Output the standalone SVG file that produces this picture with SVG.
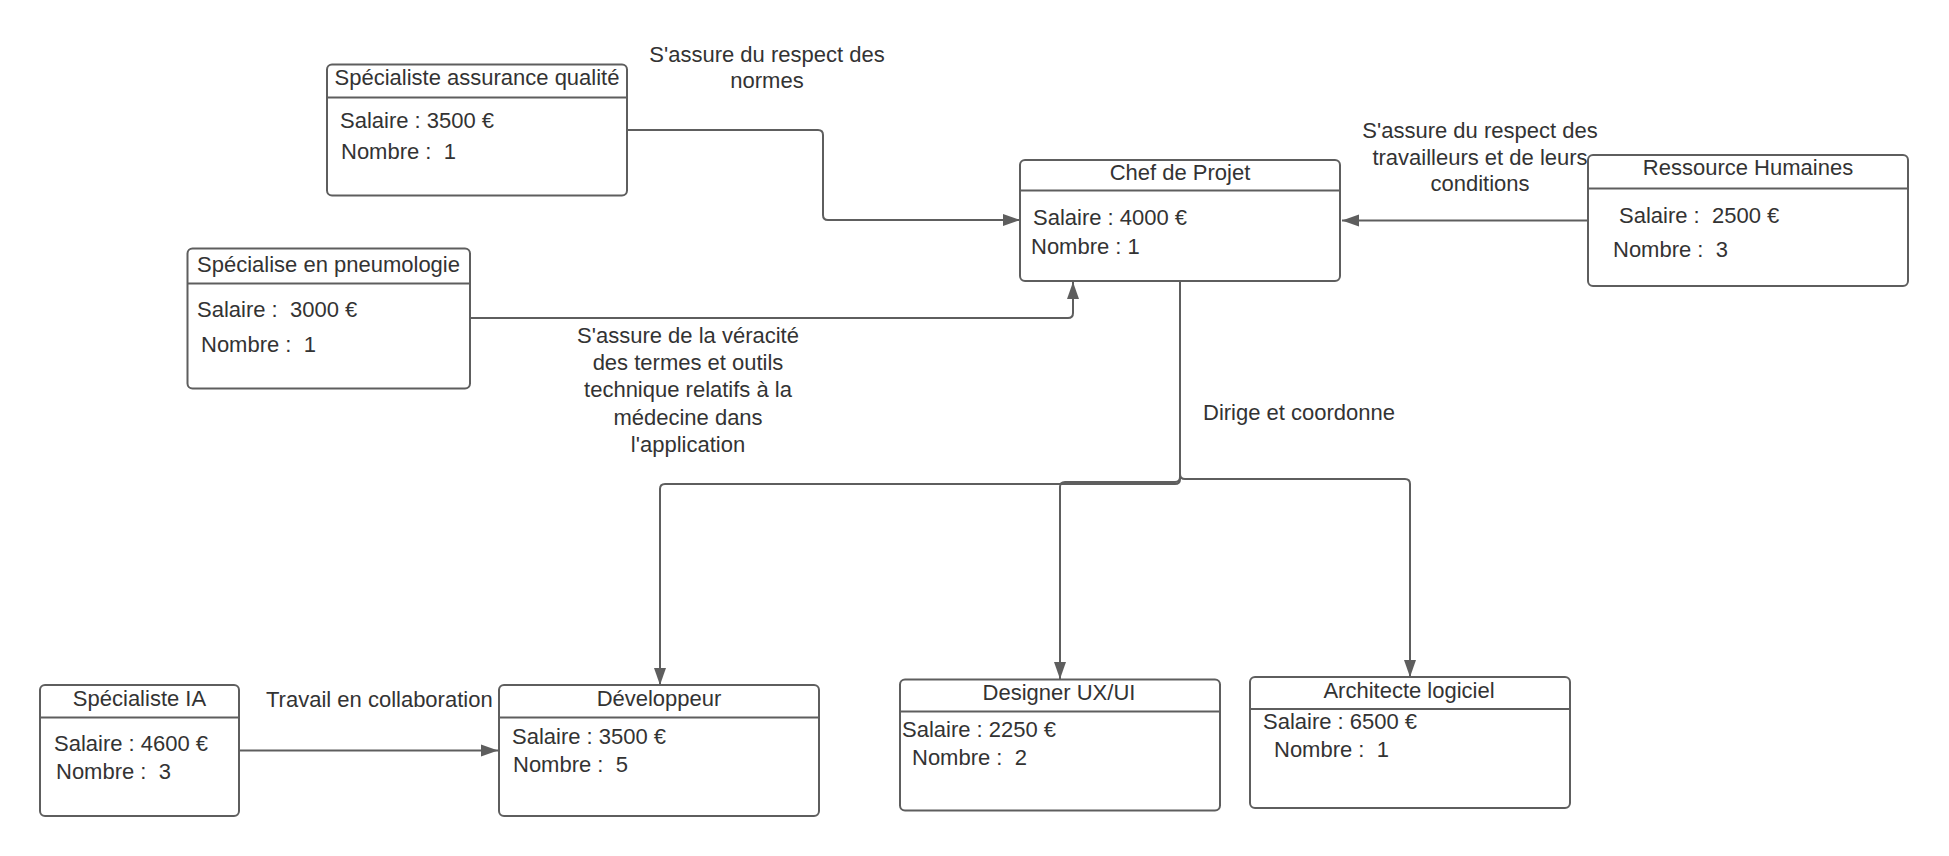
<svg xmlns="http://www.w3.org/2000/svg" width="1949" height="856" viewBox="0 0 1949 856">
<style>
.box{fill:#ffffff;stroke:#5e5e5e;stroke-width:2}
.div{stroke:#5e5e5e;stroke-width:2}
.t{font-family:"Liberation Sans",Arial,sans-serif;font-size:22px;fill:#333333;white-space:pre}
.c{text-anchor:middle}
.ln{fill:none;stroke:#5e5e5e;stroke-width:2}
</style>
<defs>
<marker id="arr" markerWidth="18" markerHeight="14" refX="17" refY="7" orient="auto" markerUnits="userSpaceOnUse">
<path d="M0,1 L17,7 L0,13 z" fill="#5e5e5e"/>
</marker>
</defs>
<rect width="1949" height="856" fill="#ffffff"/>
<g id="connectors">
<path class="ln" d="M627,130 L818,130 Q823,130 823,135 L823,215 Q823,220 828,220 L1020,220" marker-end="url(#arr)"/>
<path class="ln" d="M470,318 L1068,318 Q1073,318 1073,313 L1073,282" marker-end="url(#arr)"/>
<path class="ln" d="M1587,220.5 L1342,220.5" marker-end="url(#arr)"/>
<path class="ln" d="M1180,281 L1180,479 Q1180,484 1175,484 L665,484 Q660,484 660,489 L660,685" marker-end="url(#arr)"/>
<path class="ln" d="M1180,281 L1180,477 Q1180,482 1175,482 L1065,482 Q1060,482 1060,487 L1060,679" marker-end="url(#arr)"/>
<path class="ln" d="M1180,281 L1180,474 Q1180,479 1185,479 L1405,479 Q1410,479 1410,484 L1410,677" marker-end="url(#arr)"/>
<path class="ln" d="M239,750.5 L498,750.5" marker-end="url(#arr)"/>
<text class="t c" x="767" y="62">S'assure du respect des</text>
<text class="t c" x="767" y="88">normes</text>
<text class="t c" x="1480" y="138">S'assure du respect des</text>
<text class="t c" x="1480" y="165">travailleurs et de leurs</text>
<text class="t c" x="1480" y="191">conditions</text>
<text class="t c" x="688" y="343">S'assure de la véracité</text>
<text class="t c" x="688" y="370">des termes et outils</text>
<text class="t c" x="688" y="397">technique relatifs à la</text>
<text class="t c" x="688" y="425">médecine dans</text>
<text class="t c" x="688" y="452">l'application</text>
<text class="t" x="1203" y="420">Dirige et coordonne</text>
<text class="t" x="266" y="707">Travail en collaboration</text>
</g>
<g id="qa">
<rect class="box" x="327" y="64.5" width="300" height="131" rx="5"/>
<line class="div" x1="327" y1="97.5" x2="627" y2="97.5"/>
<text class="t c" x="477" y="85">Spécialiste assurance qualité</text>
<text class="t" x="340" y="128">Salaire : 3500 €</text>
<text class="t" x="341" y="159">Nombre :&#160; 1</text>
</g>
<g id="chef">
<rect class="box" x="1020" y="160" width="320" height="121" rx="5"/>
<line class="div" x1="1020" y1="190.5" x2="1340" y2="190.5"/>
<text class="t c" x="1180" y="180">Chef de Projet</text>
<text class="t" x="1033" y="225">Salaire : 4000 €</text>
<text class="t" x="1031" y="254">Nombre : 1</text>
</g>
<g id="rh">
<rect class="box" x="1588" y="155" width="320" height="131" rx="5"/>
<line class="div" x1="1588" y1="188.5" x2="1908" y2="188.5"/>
<text class="t c" x="1748" y="175">Ressource Humaines</text>
<text class="t" x="1619" y="223">Salaire :&#160; 2500 €</text>
<text class="t" x="1613" y="257">Nombre :&#160; 3</text>
</g>
<g id="pneumo">
<rect class="box" x="187.5" y="248.5" width="282.5" height="140" rx="5"/>
<line class="div" x1="187.5" y1="283.5" x2="470" y2="283.5"/>
<text class="t c" x="328.5" y="272">Spécialise en pneumologie</text>
<text class="t" x="197" y="317">Salaire :&#160; 3000 €</text>
<text class="t" x="201" y="352">Nombre :&#160; 1</text>
</g>
<g id="ia">
<rect class="box" x="40" y="685" width="199" height="131" rx="5"/>
<line class="div" x1="40" y1="717.5" x2="239" y2="717.5"/>
<text class="t c" x="139.5" y="706">Spécialiste IA</text>
<text class="t" x="54" y="751">Salaire : 4600 €</text>
<text class="t" x="56" y="779">Nombre :&#160; 3</text>
</g>
<g id="dev">
<rect class="box" x="499" y="685" width="320" height="131" rx="5"/>
<line class="div" x1="499" y1="717.5" x2="819" y2="717.5"/>
<text class="t c" x="659" y="706">Développeur</text>
<text class="t" x="512" y="744">Salaire : 3500 €</text>
<text class="t" x="513" y="772">Nombre :&#160; 5</text>
</g>
<g id="designer">
<rect class="box" x="900" y="679.5" width="320" height="131" rx="5"/>
<line class="div" x1="900" y1="711.5" x2="1220" y2="711.5"/>
<text class="t c" x="1059" y="700">Designer UX/UI</text>
<text class="t" x="902" y="737">Salaire : 2250 €</text>
<text class="t" x="912" y="765">Nombre :&#160; 2</text>
</g>
<g id="architecte">
<rect class="box" x="1250" y="677" width="320" height="131" rx="5"/>
<line class="div" x1="1250" y1="709" x2="1570" y2="709"/>
<text class="t c" x="1409" y="698">Architecte logiciel</text>
<text class="t" x="1263" y="729">Salaire : 6500 €</text>
<text class="t" x="1274" y="757">Nombre :&#160; 1</text>
</g>
</svg>
